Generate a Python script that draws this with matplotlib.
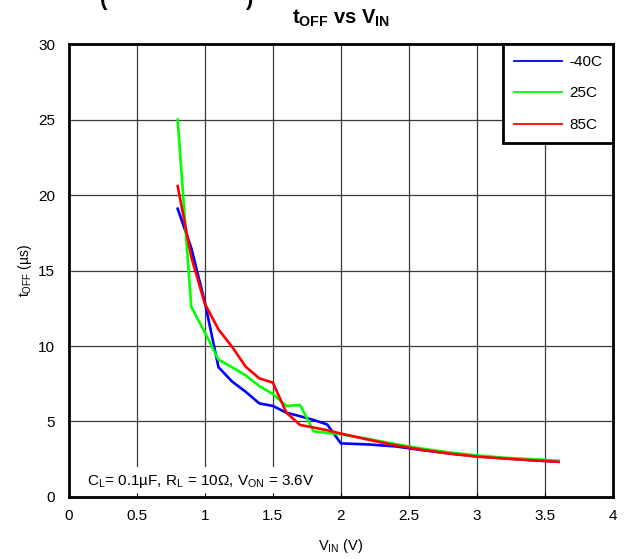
import numpy as np
import matplotlib
matplotlib.use('Agg')
import matplotlib.pyplot as plt
from matplotlib.patches import Rectangle

plt.rcParams['font.family'] = ['Liberation Sans', 'DejaVu Sans']
plt.rcParams['mathtext.fontset'] = 'custom'
plt.rcParams['mathtext.rm'] = 'Liberation Sans'
plt.rcParams['mathtext.it'] = 'Liberation Sans:italic'
plt.rcParams['mathtext.bf'] = 'Liberation Sans:bold'

# Data
vin = [0.8, 0.9, 1.0, 1.1, 1.2, 1.3, 1.4, 1.5, 1.6, 1.7, 1.8, 1.9,
       2.0, 2.2, 2.4, 2.6, 2.8, 3.0, 3.2, 3.4, 3.6]
toff_m40 = [19.1, 16.5, 12.9, 8.6, 7.65, 6.97, 6.2, 6.03, 5.58, 5.35, 5.1, 4.8,
            3.55, 3.48, 3.35, 3.1, 2.88, 2.7, 2.56, 2.44, 2.33]
toff_25 = [25.0, 12.6, 10.9, 9.1, 8.6, 8.05, 7.35, 6.82, 6.03, 6.09, 4.35, 4.25,
           4.15, 3.85, 3.5, 3.2, 2.95, 2.75, 2.6, 2.5, 2.4]
toff_85 = [20.6, 15.9, 12.8, 11.1, 9.95, 8.63, 7.86, 7.57, 5.58, 4.77, 4.6, 4.42,
           4.2, 3.8, 3.42, 3.12, 2.87, 2.67, 2.55, 2.43, 2.33]

series = [toff_m40, toff_25, toff_85]
labels = ['-40C', '25C', '85C']
colors = ['#0000FF', '#00FF00', '#FF0000']

xticks = [0, 0.5, 1, 1.5, 2, 2.5, 3, 3.5, 4]
xtick_labels = ['0', '0.5', '1', '1.5', '2', '2.5', '3', '3.5', '4']
yticks = [0, 5, 10, 15, 20, 25, 30]

fig = plt.figure(figsize=(6.26, 5.59), dpi=100)
ax = fig.add_axes([0.110, 0.111, 0.869, 0.810])

# grid lines drawn by hand so the note box can hide them but not the ticks
for xv in xticks[1:-1]:
    ax.axvline(xv, color='#3a3a3a', lw=0.9, zorder=0.5)
for yv in yticks[1:-1]:
    ax.axhline(yv, color='#3a3a3a', lw=0.9, zorder=0.5)

ax.add_patch(Rectangle((0, 0), 1.99, 2.0, facecolor='white', edgecolor='none', zorder=1))
ax.text(0.13, 1.0, r'C$_\mathregular{L}$= 0.1µF, R$_\mathregular{L}$ = 10Ω, V$_\mathregular{ON}$ = 3.6V',
        fontsize=11, va='center', ha='left', zorder=2)

for data, label, color in zip(series, labels, colors):
    ax.plot(vin, data, color=color, lw=1.9, label=label, zorder=3)

ax.set_xlim(0, 4)
ax.set_ylim(0, 30)
ax.set_xticks(xticks)
ax.set_xticklabels(xtick_labels)
ax.set_yticks(yticks)
ax.tick_params(axis='x', direction='in', length=3, width=0.8, labelsize=11, pad=9)
ax.tick_params(axis='y', length=0, labelsize=11, pad=10)
for sp in ax.spines.values():
    sp.set_linewidth(2)
    sp.set_zorder(4)

ax.set_xlabel(r'V$_\mathregular{IN}$ (V)', fontsize=10.5, labelpad=10)
ax.set_ylabel(r't$_\mathregular{OFF}$ (µs)', fontsize=10, labelpad=3)
ax.set_title(r'$\mathbf{t_{OFF}}$ vs $\mathbf{V_{IN}}$', fontsize=14.5, fontweight='bold', pad=15)

leg = ax.legend(loc='upper right', borderaxespad=0, fancybox=False, fontsize=11,
                handlelength=3.1, labelspacing=1.15, handletextpad=0.5,
                borderpad=0.7, framealpha=1)
leg.get_frame().set_edgecolor('black')
leg.get_frame().set_linewidth(2)
for line in leg.get_lines():
    line.set_linewidth(1.3)

# remains of the page heading cut off at the top
fig.text(100 / 626, 1 - 10 / 559, '(', fontsize=16, fontweight='bold', va='bottom', ha='left')
fig.text(245 / 626, 1 - 10 / 559, ')', fontsize=16, fontweight='bold', va='bottom', ha='left')

fig.savefig('out.png', dpi=100)
